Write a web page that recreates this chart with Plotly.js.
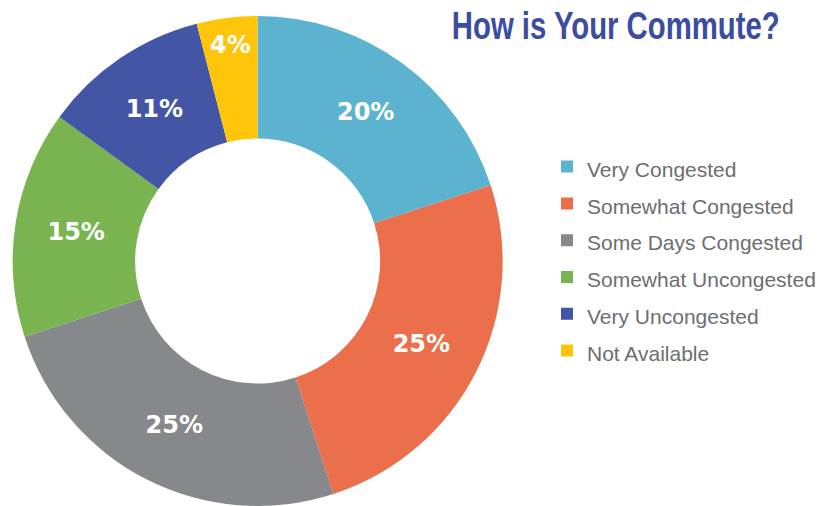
<!DOCTYPE html>
<html>
<head>
<meta charset="utf-8">
<script src="https://cdn.plot.ly/plotly-3.0.1.min.js"></script>
<style>html,body{margin:0;padding:0;background:#fff;}#chart{width:821px;height:506px;}</style>
</head>
<body>
<div id="chart"></div>
<script>
var categories = ["Very Congested", "Somewhat Congested", "Some Days Congested", "Somewhat Uncongested", "Very Uncongested", "Not Available"];
var values = [20, 25, 25, 15, 11, 4];
var colors = ["#5BB3CF", "#EB6F4A", "#87888C", "#7AB450", "#4356A5", "#FFC50A"];
var chartTitle = "How is Your Commute?";

var trace = {
  type: "pie",
  labels: categories.map(function(c){ return '<span style="font-size:21px">' + c + '</span>'; }),
  values: values,
  hole: 0.5,
  sort: false,
  direction: "clockwise",
  rotation: 0,
  marker: {colors: colors, line: {width: 0}},
  texttemplate: "%{value}%",
  textposition: "inside",
  insidetextorientation: "horizontal",
  textfont: {family: "DejaVu Sans", size: 24, color: "#ffffff", weight: "bold"},
  hoverinfo: "label+value",
  domain: {x: [0.0146, 0.6138], y: [0.0, 0.9684]}
};

var layout = {
  width: 821, height: 506,
  margin: {l: 0, r: 0, t: 0, b: 0},
  paper_bgcolor: "#ffffff",
  title: {
    text: chartTitle,
    font: {family: "Liberation Sans, Arial, sans-serif", size: 38, color: "#3A4D9E", weight: "bold"},
    xref: "container", yref: "container",
    x: 0.75, xanchor: "center",
    y: 0.95, yanchor: "middle"
  },
  showlegend: true,
  legend: {
    x: 0.6668, xanchor: "left",
    y: 0.717, yanchor: "top",
    font: {family: "Liberation Sans, Arial, sans-serif", size: 26, color: "#6D6E71"},
    bgcolor: "rgba(0,0,0,0)",
    itemclick: false
  }
};

Plotly.newPlot("chart", [trace], layout, {displayModeBar: false, staticPlot: true}).then(function(gd){
  // emulate the condensed title face by narrowing the real text horizontally
  var t = gd.querySelector(".gtitle");
  if (t) {
    var bb = t.getBBox();
    var targetW = 328;
    var s = targetW / bb.width;
    var cx = bb.x + bb.width / 2;
    t.setAttribute("transform", "translate(" + cx + ",0) scale(" + s + ",1) translate(" + (-cx) + ",0)");
  }
});
</script>
</body>
</html>
